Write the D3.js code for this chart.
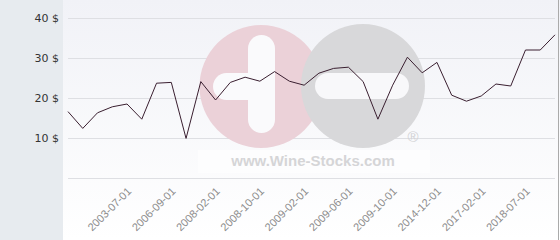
<!DOCTYPE html>
<html>
<head>
<meta charset="utf-8">
<script src="https://cdn.jsdelivr.net/npm/d3@7"></script>
<style>
  body { margin: 0; background: #fff; }
  svg { display: block; }
</style>
</head>
<body>
<script>
var prices = [16.6, 12.4, 16.3, 17.8, 18.5, 14.7, 23.7, 23.9, 9.9, 24.1,
              19.5, 23.9, 25.2, 24.2, 26.6, 24.2, 23.2, 26.2, 27.4, 27.7,
              24.1, 14.7, 23.2, 30.2, 26.3, 28.9, 20.7, 19.2, 20.5, 23.5,
              23.0, 32.0, 32.0, 35.8];
// only every third date carries a label
var tickIndex = [4, 7, 10, 13, 16, 19, 22, 25, 28, 31];
var tickLabels = ["2003-07-01", "2006-09-01", "2008-02-01", "2008-10-01", "2009-02-01",
                  "2009-06-01", "2009-10-01", "2014-12-01", "2017-02-01", "2018-07-01"];
var yTicks = [10, 20, 30, 40];

var width = 560,
    height = 240;
var margin = {left: 63, right: 2};

var svg = d3.select("body").append("svg")
      .attr("width", width)
      .attr("height", height);

var defs = svg.append("defs");
var grad = defs.append("linearGradient")
      .attr("id", "bg")
      .attr("x1", 0).attr("y1", 0).attr("x2", 0).attr("y2", 1);
grad.append("stop").attr("offset", "0%").attr("stop-color", "#f1f2f7");
grad.append("stop").attr("offset", "100%").attr("stop-color", "#ffffff");

// plot background + left panel
svg.append("rect")
      .attr("x", margin.left).attr("y", 0)
      .attr("width", width - margin.left).attr("height", height)
      .attr("fill", "url(#bg)");
svg.append("rect")
      .attr("x", 0).attr("y", 0)
      .attr("width", margin.left).attr("height", height)
      .attr("fill", "#e7ebef");
svg.append("line")
      .attr("x1", width - 1.5).attr("x2", width - 1.5)
      .attr("y1", 0).attr("y2", height)
      .attr("stroke", "#aaa");

var xScale = d3.scaleLinear()
      .domain([0, prices.length - 1])
      .range([68, 555]);
var yScale = d3.scaleLinear()
      .domain([0, 40])
      .range([178, 18]);

// gridlines (0 line doubles as the axis)
svg.append("g")
    .selectAll("line")
    .data([0].concat(yTicks))
    .enter().append("line")
      .attr("x1", 68)
      .attr("x2", 555)
      .attr("y1", d => yScale(d) + 0.5)
      .attr("y2", d => yScale(d) + 0.5)
      .attr("stroke", "#dedfe3");

svg.append("g")
    .selectAll("text")
    .data(yTicks)
    .enter().append("text")
      .attr("x", 59)
      .attr("y", d => yScale(d) + 4)
      .attr("text-anchor", "end")
      .attr("font-family", "DejaVu Sans")
      .attr("font-size", 11)
      .attr("fill", "#333")
      .text(d => d + " $");

// watermark
var wm = svg.append("g");
wm.append("circle")
      .attr("cx", 261).attr("cy", 86.5).attr("r", 61.5)
      .attr("fill", "#ebd1d8");
wm.append("rect")
      .attr("x", 248).attr("y", 35).attr("width", 27).attr("height", 98)
      .attr("rx", 13.5).attr("fill", "#fafafc");
wm.append("rect")
      .attr("x", 213).attr("y", 73).attr("width", 62).attr("height", 27)
      .attr("rx", 13.5).attr("fill", "#fafafc");
wm.append("circle")
      .attr("cx", 363).attr("cy", 86).attr("r", 62)
      .attr("fill", "#d8d8da");
wm.append("rect")
      .attr("x", 315).attr("y", 73).attr("width", 94).attr("height", 26)
      .attr("rx", 13).attr("fill", "#f8f8fa");
wm.append("text")
      .attr("x", 413).attr("y", 142)
      .attr("text-anchor", "middle")
      .attr("font-family", "Liberation Sans")
      .attr("font-size", 15)
      .attr("fill", "#d2d2d5")
      .text("®");
wm.append("rect")
      .attr("x", 198).attr("y", 150).attr("width", 232).attr("height", 23)
      .attr("fill", "#fff").attr("opacity", 0.6);
wm.append("text")
      .attr("x", 313).attr("y", 166)
      .attr("text-anchor", "middle")
      .attr("font-family", "Liberation Sans")
      .attr("font-weight", "bold")
      .attr("font-size", 15)
      .attr("fill", "#d5d5d7")
      .text("www.Wine-Stocks.com");

// price line
var line = d3.line()
      .x((d, i) => xScale(i))
      .y(d => yScale(d));

svg.append("path")
      .datum(prices)
      .attr("d", line)
      .attr("fill", "none")
      .attr("stroke", "#3a1f30")
      .attr("stroke-width", 1);

// rotated date labels
svg.append("g")
    .selectAll("text")
    .data(tickIndex)
    .enter().append("text")
      .attr("transform", d => `translate(${xScale(d) + 5}, 192) rotate(-45)`)
      .attr("text-anchor", "end")
      .attr("font-family", "Liberation Sans")
      .attr("font-size", 11)
      .attr("fill", "#8c8c8c")
      .text((d, i) => tickLabels[i]);
</script>
</body>
</html>
